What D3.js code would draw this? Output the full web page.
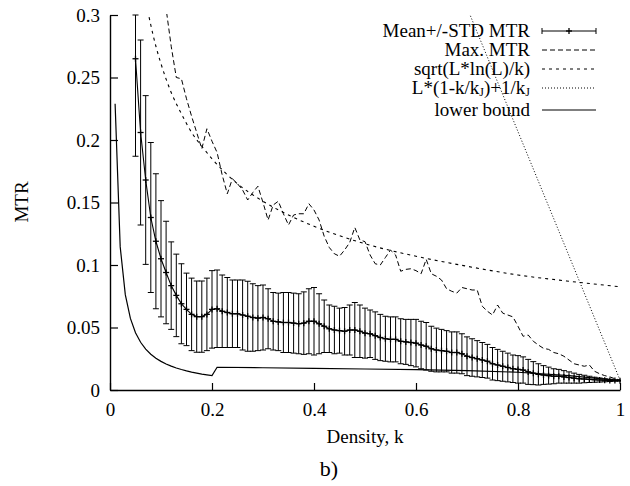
<!DOCTYPE html>
<html><head><meta charset="utf-8">
<script src="https://cdn.jsdelivr.net/npm/d3@7/dist/d3.min.js"></script>
<style>body{margin:0;background:#fff}svg{display:block}text{font-family:"Liberation Serif","Times New Roman",serif;fill:#000}</style>
</head><body><svg id="c" width="630" height="486"></svg>
<script>
// ---- data ----
const meanK = d3.range(5, 101).map(i => i / 100);
const meanMTR = [0.265,0.206,0.168,0.138,0.119,0.105,0.094,0.0835,0.0757,0.069,
0.0645,0.0605,0.0587,0.0587,0.0605,0.0645,0.065,0.063,0.062,0.061,
0.061,0.060,0.059,0.058,0.0575,0.058,0.057,0.055,0.0545,0.054,
0.054,0.0535,0.053,0.0535,0.055,0.055,0.053,0.051,0.049,0.048,
0.0475,0.047,0.048,0.048,0.047,0.0455,0.045,0.0435,0.042,0.041,
0.0405,0.0405,0.039,0.0385,0.038,0.0375,0.036,0.035,0.033,0.032,
0.0315,0.031,0.030,0.030,0.029,0.027,0.026,0.025,0.024,0.023,
0.021,0.020,0.019,0.018,0.017,0.0165,0.016,0.0145,0.0135,0.0125,
0.012,0.0115,0.011,0.011,0.0105,0.010,0.0095,0.009,0.0088,0.0085,
0.0082,0.008,0.0078,0.0077,0.0076,0.0075];
const stdMTR = [0.078,0.074,0.0675,0.060,0.054,0.0465,0.041,0.035,0.033,0.032,
0.029,0.029,0.0285,0.0285,0.029,0.031,0.031,0.029,0.028,0.027,
0.027,0.028,0.028,0.027,0.026,0.026,0.024,0.023,0.023,0.024,
0.024,0.024,0.024,0.025,0.026,0.027,0.024,0.021,0.019,0.019,
0.018,0.019,0.020,0.022,0.021,0.020,0.019,0.019,0.0185,0.018,
0.018,0.018,0.018,0.018,0.0185,0.019,0.019,0.019,0.018,0.0175,
0.017,0.0165,0.0165,0.0165,0.016,0.0155,0.015,0.0145,0.014,0.0135,
0.013,0.0125,0.012,0.0115,0.011,0.011,0.0105,0.010,0.0092,0.0085,
0.0075,0.0068,0.006,0.0055,0.005,0.0045,0.004,0.0035,0.003,0.0025,
0.002,0.0016,0.0012,0.0009,0.0006,0.0003];
const maxK = d3.range(10, 101).map(i => i / 100);
const maxMTR = [0.34,0.305,0.275,0.250,0.249,0.233,0.219,0.206,0.193,0.209,
0.199,0.190,0.172,0.157,0.169,0.165,0.160,0.152,0.158,0.163,
0.150,0.136,0.148,0.151,0.141,0.132,0.140,0.141,0.141,0.149,
0.144,0.136,0.123,0.114,0.109,0.107,0.112,0.118,0.130,0.120,
0.1187,0.108,0.101,0.100,0.106,0.112,0.108,0.095,0.0965,0.097,
0.0955,0.093,0.1045,0.093,0.091,0.088,0.081,0.079,0.0775,0.082,
0.081,0.080,0.080,0.067,0.063,0.060,0.068,0.0615,0.060,0.0585,
0.051,0.043,0.044,0.039,0.036,0.0333,0.0325,0.030,0.029,0.027,
0.024,0.021,0.020,0.019,0.020,0.015,0.013,0.0115,0.0105,0.009,0.008];
const sqrtK = [0.06,0.07,0.08,0.09,0.10,0.12,0.14,0.16,0.18,0.20,0.25,0.30,0.35,0.40,0.50,0.60,0.70,0.80,0.90,1.00];
const sqrtV = [0.337,0.312,0.292,0.275,0.261,0.238,0.221,0.206,0.195,0.185,0.165,0.151,0.140,0.131,0.117,0.107,0.099,0.092,0.087,0.0826];
const linK = [0.70, 1.00];
const linV = [0.306, 0.008];
const lowK = [0.01,0.02,0.03,0.04,0.05,0.06,0.07,0.08,0.09,0.10,0.11,0.12,0.13,0.14,0.15,0.16,0.17,0.18,0.19,0.20,0.21,0.30,0.40,0.50,0.60,0.70,0.80,0.90,1.00];
const lowV = [0.229,0.1145,0.0763,0.0573,0.0458,0.0382,0.0327,0.0286,0.0254,0.0229,0.0208,0.0191,0.0176,0.0164,0.0153,0.0143,0.0135,0.0127,0.0121,0.0115,0.0182,0.0178,0.0173,0.0168,0.0163,0.0155,0.0142,0.0115,0.0075];
const xTicks = [0,0.2,0.4,0.6,0.8,1];
const yTicks = [0,0.05,0.1,0.15,0.2,0.25,0.3];
const legendLabels = ["Mean+/-STD MTR","Max. MTR","sqrt(L*ln(L)/k)","L*(1-k/kJ)+1/kJ","lower bound"];

// ---- chart ----
const svg = d3.select("#c");
const L = 110, R = 620, T = 15, B = 390;
const x = d3.scaleLinear().domain([0,1]).range([L,R]);
const y = d3.scaleLinear().domain([0,0.3]).range([B,T]);
const yc = y.copy().clamp(true);

svg.append("defs").append("clipPath").attr("id","clip")
  .append("rect").attr("x",L).attr("y",T-1).attr("width",R-L+1).attr("height",B-T+1);

const ax = svg.append("g").attr("transform",`translate(0,${B})`)
  .call(d3.axisBottom(x).tickValues(xTicks).tickFormat(d=>String(d)).tickSizeInner(-7).tickSizeOuter(0).tickPadding(13));
const ay = svg.append("g").attr("transform",`translate(${L},0)`)
  .call(d3.axisLeft(y).tickValues(yTicks).tickFormat(d=>d===0?"0":String(+d.toFixed(2))).tickSizeInner(-8).tickSizeOuter(0).tickPadding(10));
[ax,ay].forEach(g=>{
  g.selectAll("text").attr("font-size",19).attr("font-family",'"Liberation Serif",serif').attr("fill","#000");
  g.selectAll("line").attr("stroke","#000").attr("stroke-width",1.2);
  g.select(".domain").attr("stroke","#000").attr("stroke-width",1.4);
});

svg.append("text").attr("transform","translate(21,202) rotate(-90)").attr("text-anchor","middle")
  .attr("dy","0.35em").attr("font-size",19).text("MTR");
svg.append("text").attr("x",365).attr("y",443).attr("text-anchor","middle").attr("font-size",19).text("Density, k");
svg.append("text").attr("x",329).attr("y",476).attr("text-anchor","middle").attr("font-size",22).text("b)");

const plot = svg.append("g").attr("clip-path","url(#clip)");
const line = d3.line().x(d=>x(d[0])).y(d=>y(d[1]));

// lower bound
plot.append("path").datum(lowK.map((k,i)=>[k,lowV[i]])).attr("d",line)
  .attr("fill","none").attr("stroke","#000").attr("stroke-width",1.2);
// L*(1-k/kJ)+1/kJ
plot.append("path").datum(linK.map((k,i)=>[k,linV[i]])).attr("d",line)
  .attr("fill","none").attr("stroke","#000").attr("stroke-width",1).attr("stroke-dasharray","1,2");
// sqrt curve
plot.append("path").datum(sqrtK.map((k,i)=>[k,sqrtV[i]])).attr("d",line.curve(d3.curveMonotoneX))
  .attr("fill","none").attr("stroke","#000").attr("stroke-width",1.1).attr("stroke-dasharray","3,4");
line.curve(d3.curveLinear);
// max MTR
plot.append("path").datum(maxK.map((k,i)=>[k,maxMTR[i]])).attr("d",line)
  .attr("fill","none").attr("stroke","#000").attr("stroke-width",1).attr("stroke-dasharray","5,3");

// error bars
const eb = plot.append("g").attr("stroke","#000").attr("stroke-width",1).attr("fill","none");
const pts = meanK.map((k,i)=>({k, m:meanMTR[i], s:stdMTR[i]}));
pts.forEach(p=>{
  const px = x(p.k), lo = yc(p.m - p.s), hi = yc(p.m + p.s);
  eb.append("line").attr("x1",px).attr("x2",px).attr("y1",lo).attr("y2",hi);
  eb.append("line").attr("x1",px-3).attr("x2",px+3).attr("y1",lo).attr("y2",lo);
  eb.append("line").attr("x1",px-3).attr("x2",px+3).attr("y1",hi).attr("y2",hi);
  const py = y(p.m);
  eb.append("line").attr("x1",px-3).attr("x2",px+3).attr("y1",py).attr("y2",py).attr("stroke-width",1.3);
  eb.append("line").attr("x1",px).attr("x2",px).attr("y1",py-3).attr("y2",py+3).attr("stroke-width",1.3);
});
plot.append("path").datum(pts.map(p=>[p.k,p.m])).attr("d",line)
  .attr("fill","none").attr("stroke","#000").attr("stroke-width",1.1);

// legend
const lg = svg.append("g");
const rowsY = [31,50,69,88,110];
const sx0 = 542, sx1 = 596, tx = 530;
legendLabels.forEach((lab,i)=>{
  const t = lg.append("text").attr("x",tx).attr("y",rowsY[i]).attr("dy","0.33em").attr("text-anchor","end").attr("font-size",19);
  if (i===3) {
    t.append("tspan").text("L*(1-k/k");
    t.append("tspan").attr("font-size",12).attr("dy",2).text("J");
    t.append("tspan").attr("dy",-2).text(")+1/k");
    t.append("tspan").attr("font-size",12).attr("dy",2).text("J");
  } else t.text(lab);
});
const ly = rowsY;
// sample 1: errorlines
lg.append("line").attr("x1",sx0).attr("x2",sx1).attr("y1",ly[0]).attr("y2",ly[0]).attr("stroke","#000").attr("stroke-width",1);
[sx0,sx1].forEach(sx=>lg.append("line").attr("x1",sx).attr("x2",sx).attr("y1",ly[0]-3).attr("y2",ly[0]+3).attr("stroke","#000"));
lg.append("line").attr("x1",(sx0+sx1)/2).attr("x2",(sx0+sx1)/2).attr("y1",ly[0]-3).attr("y2",ly[0]+3).attr("stroke","#000").attr("stroke-width",1.3);
lg.append("line").attr("x1",(sx0+sx1)/2-3).attr("x2",(sx0+sx1)/2+3).attr("y1",ly[0]).attr("y2",ly[0]).attr("stroke","#000").attr("stroke-width",1.3);
const dashes = ["5,3","3,4","1,2",null];
[1,2,3,4].forEach((r,j)=>{
  const l = lg.append("line").attr("x1",sx0).attr("x2",sx1).attr("y1",ly[r]).attr("y2",ly[r]).attr("stroke","#000")
    .attr("stroke-width", r===4?1.2:1);
  if (dashes[j]) l.attr("stroke-dasharray",dashes[j]);
});
</script></body></html>
